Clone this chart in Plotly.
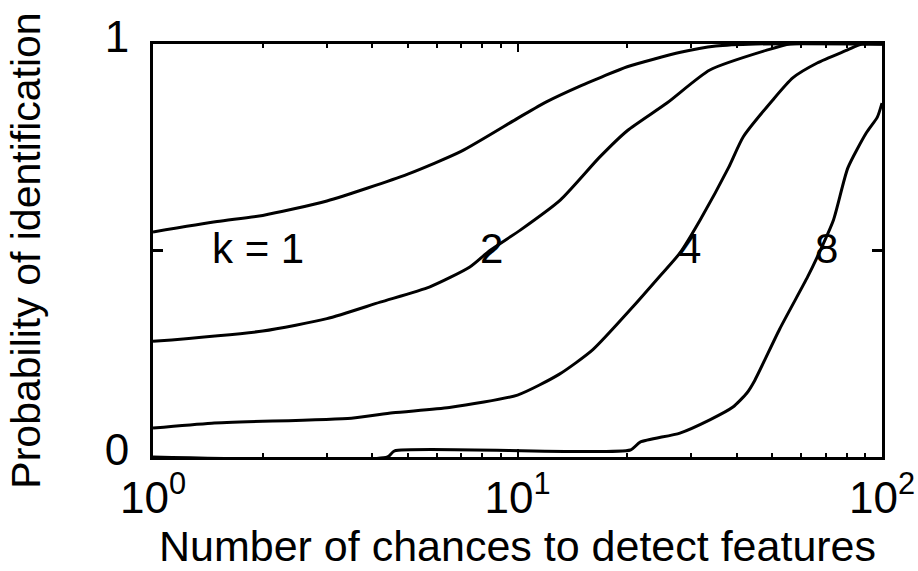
import math
import plotly.graph_objects as go

# Data
k1_n = [1, 1.5, 2, 3, 5, 7, 10, 12, 15, 17, 20, 28, 35, 45, 100]
k1_p = [0.545, 0.57, 0.585, 0.62, 0.685, 0.74, 0.82, 0.86, 0.90, 0.92, 0.945, 0.98, 0.995, 1.0, 1.0]

k2_n = [1, 2, 3, 4.2, 5.75, 7.4, 8.4, 10.2, 13.1, 16.8, 20, 25.7, 33.7, 48.3, 56, 100]
k2_p = [0.28, 0.305, 0.335, 0.375, 0.412, 0.46, 0.50, 0.55, 0.622, 0.726, 0.79, 0.857, 0.937, 0.985, 1.0, 1.0]

k4_n = [1, 1.45, 3.5, 4.55, 6.5, 10, 13, 16.1, 20.7, 24.7, 27.9, 31.7, 37.9, 41.6, 50.1, 56.9, 66.4, 80.2, 88, 100]
k4_p = [0.07, 0.082, 0.094, 0.107, 0.12, 0.15, 0.2, 0.26, 0.363, 0.44, 0.494, 0.574, 0.70, 0.775, 0.864, 0.918, 0.954, 0.985, 1.0, 1.0]

k8_n = [1, 4.4, 4.6, 20.4, 21.7, 27.9, 33.7, 39, 42.6, 44.8, 52.4, 62.5, 66.4, 73.6, 80.6, 90.6, 97.1, 100]
k8_p = [0.0, 0.0, 0.015, 0.017, 0.036, 0.058, 0.09, 0.121, 0.155, 0.186, 0.31, 0.436, 0.484, 0.574, 0.70, 0.785, 0.823, 0.857]

curve_labels = ["k = 1", "2", "4", "8"]
label_n = [1.94, 8.46, 29.7, 70.6]
label_p = [0.506, 0.506, 0.504, 0.506]

x_tickvals = [1, 10, 100]
x_ticktext = ["10<sup>0</sup>", "10<sup>1</sup>", "10<sup>2</sup>"]
x_minor = [2, 3, 4, 5, 6, 7, 8, 9, 20, 30, 40, 50, 60, 70, 80, 90]
y_tickvals = [0, 0.5, 1]
y_ticktext = ["0", " ", "1"]

SANS = "Liberation Sans, Arial, sans-serif"

fig = go.Figure()
for n, p in [(k1_n, k1_p), (k2_n, k2_p), (k4_n, k4_p), (k8_n, k8_p)]:
    fig.add_trace(go.Scatter(x=n, y=p, mode="lines",
                             line=dict(color="black", width=3, shape="spline", smoothing=0.6),
                             showlegend=False, hoverinfo="skip"))

# annotations on a log axis are placed in log10 units
for t, n, p in zip(curve_labels, label_n, label_p):
    fig.add_annotation(x=math.log10(n), y=p, xref="x", yref="y", text=t, showarrow=False,
                       xanchor="center", yanchor="middle",
                       font=dict(family=SANS, size=42, color="black"))

fig.update_layout(
    width=918, height=571,
    margin=dict(l=153, r=36, t=44, b=114),
    plot_bgcolor="white", paper_bgcolor="white",
    xaxis=dict(type="log", range=[0, 2], showgrid=False, zeroline=False, automargin=False,
               showline=True, linecolor="black", linewidth=3, mirror="allticks",
               ticks="inside", ticklen=8, tickwidth=2, tickcolor="black",
               tickvals=x_tickvals, ticktext=x_ticktext,
               tickfont=dict(family=SANS, size=44, color="black"),
               minor=dict(tickvals=x_minor, ticks="inside", ticklen=4, tickwidth=2, tickcolor="black"),
               title=dict(text="Number of chances to detect features",
                          font=dict(family=SANS, size=43, color="black"), standoff=6)),
    yaxis=dict(range=[0, 1], showgrid=False, zeroline=False, automargin=False,
               showline=True, linecolor="black", linewidth=3, mirror="allticks",
               ticks="inside", ticklen=10, tickwidth=3, tickcolor="black",
               tickvals=y_tickvals, ticktext=y_ticktext,
               tickfont=dict(family=SANS, size=44, color="black"),
               ticklabelshift=-7, ticklabelstandoff=12,
               title=dict(text="Probability of identification",
                          font=dict(family=SANS, size=41, color="black"), standoff=52)),
)

fig.write_html("out.html")
